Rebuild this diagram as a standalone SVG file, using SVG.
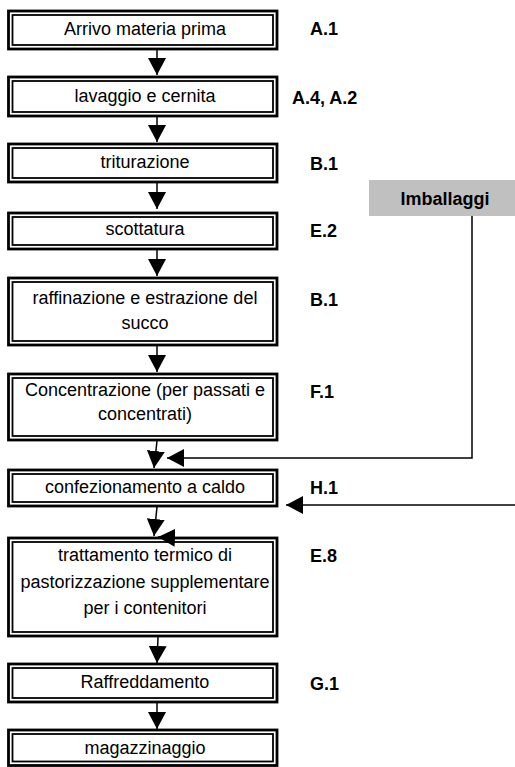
<svg xmlns="http://www.w3.org/2000/svg" width="515" height="767" viewBox="0 0 515 767">
  <style>
    .outer { fill: #ffffff; stroke: #000000; stroke-width: 2.8; }
    .inner { fill: none; stroke: #000000; stroke-width: 1.8; }
    .step { font-family: "Liberation Sans", Arial, sans-serif; font-size: 18px; fill: #000000; text-anchor: middle; }
    .code { font-family: "Liberation Sans", Arial, sans-serif; font-size: 18px; font-weight: bold; fill: #000000; }
    .wire { fill: none; stroke: #000000; stroke-width: 1.5; }
    .source { fill: #c0c0c0; stroke: none; }
  </style>
  <defs>
    <marker id="head" viewBox="0 0 17 18" refX="17" refY="9" markerWidth="17" markerHeight="18" markerUnits="userSpaceOnUse" orient="auto">
      <path d="M0,0 L17,9 L0,18 Z" fill="#000000"/>
    </marker>
  </defs>
  <rect width="515" height="767" fill="#ffffff"/>

  <g id="n1">
    <rect class="outer" x="8.5" y="11" width="268.5" height="38"/>
    <rect class="inner" x="12.5" y="15" width="260.5" height="30"/>
    <text class="step" x="145" y="35">Arrivo materia prima</text>
    <text class="code" x="310" y="34.5">A.1</text>
  </g>
  <g id="n2">
    <rect class="outer" x="8.5" y="77" width="268.5" height="39"/>
    <rect class="inner" x="12.5" y="81" width="260.5" height="31"/>
    <text class="step" x="145" y="102">lavaggio e cernita</text>
    <text class="code" x="292" y="103.5">A.4, A.2</text>
  </g>
  <g id="n3">
    <rect class="outer" x="8.5" y="144" width="268.5" height="38"/>
    <rect class="inner" x="12.5" y="148" width="260.5" height="30"/>
    <text class="step" x="145" y="168">triturazione</text>
    <text class="code" x="310" y="169.5">B.1</text>
  </g>
  <g id="n4">
    <rect class="outer" x="8.5" y="213" width="268.5" height="36"/>
    <rect class="inner" x="12.5" y="217" width="260.5" height="28"/>
    <text class="step" x="145" y="235">scottatura</text>
    <text class="code" x="310" y="236.5">E.2</text>
  </g>
  <g id="n5">
    <rect class="outer" x="8.5" y="278" width="268.5" height="67"/>
    <rect class="inner" x="12.5" y="282" width="260.5" height="59"/>
    <text class="step" x="145" y="304">raffinazione e estrazione del</text>
    <text class="step" x="145" y="329">succo</text>
    <text class="code" x="310" y="306">B.1</text>
  </g>
  <g id="n6">
    <rect class="outer" x="8.5" y="374" width="268.5" height="66"/>
    <rect class="inner" x="12.5" y="378" width="260.5" height="58"/>
    <text class="step" x="145" y="396">Concentrazione (per passati e</text>
    <text class="step" x="145" y="420">concentrati)</text>
    <text class="code" x="310" y="398">F.1</text>
  </g>
  <g id="n7">
    <rect class="outer" x="8.5" y="470" width="268.5" height="36"/>
    <rect class="inner" x="12.5" y="474" width="260.5" height="28"/>
    <text class="step" x="145" y="493">confezionamento a caldo</text>
    <text class="code" x="310" y="494">H.1</text>
  </g>
  <g id="n8">
    <rect class="outer" x="8.5" y="538" width="268.5" height="98"/>
    <rect class="inner" x="12.5" y="542" width="260.5" height="90"/>
    <text class="step" x="145" y="561">trattamento termico di</text>
    <text class="step" x="145" y="588">pastorizzazione supplementare</text>
    <text class="step" x="145" y="614">per i contenitori</text>
    <text class="code" x="310" y="562">E.8</text>
  </g>
  <g id="n9">
    <rect class="outer" x="8.5" y="664" width="268.5" height="38"/>
    <rect class="inner" x="12.5" y="668" width="260.5" height="30"/>
    <text class="step" x="145" y="688">Raffreddamento</text>
    <text class="code" x="310" y="690">G.1</text>
  </g>
  <g id="n10">
    <rect class="outer" x="8.5" y="730" width="268.5" height="35.5"/>
    <rect class="inner" x="12.5" y="734" width="260.5" height="27.5"/>
    <text class="step" x="145" y="754">magazzinaggio</text>
  </g>
  <g id="imballaggi">
    <rect class="source" x="369" y="180" width="146" height="36"/>
    <text class="code" x="445" y="205" text-anchor="middle">Imballaggi</text>
  </g>

  <!-- connectors, drawn over the boxes -->
  <g id="connectors">
    <line class="wire" x1="157" y1="50" x2="157" y2="75" marker-end="url(#head)"/>
    <line class="wire" x1="157" y1="117" x2="157" y2="142" marker-end="url(#head)"/>
    <line class="wire" x1="157" y1="183" x2="157" y2="209" marker-end="url(#head)"/>
    <line class="wire" x1="157" y1="250" x2="157" y2="276" marker-end="url(#head)"/>
    <line class="wire" x1="157" y1="346" x2="157" y2="372" marker-end="url(#head)"/>
    <line class="wire" x1="157" y1="441" x2="154" y2="468" marker-end="url(#head)"/>
    <line class="wire" x1="157" y1="507" x2="154" y2="536" marker-end="url(#head)"/>
    <line class="wire" x1="158" y1="637" x2="157" y2="663" marker-end="url(#head)"/>
    <line class="wire" x1="157" y1="703" x2="157" y2="729" marker-end="url(#head)"/>
    <!-- packaging feed into filling -->
    <polyline class="wire" points="472,216 472,458 167,458" marker-end="url(#head)"/>
    <!-- H.1 side input -->
    <line class="wire" x1="515" y1="505" x2="286" y2="505" marker-end="url(#head)"/>
    <!-- short stub lying on the heat-treatment box top -->
    <line class="wire" x1="178" y1="538" x2="158" y2="537" marker-end="url(#head)"/>
  </g>
</svg>
